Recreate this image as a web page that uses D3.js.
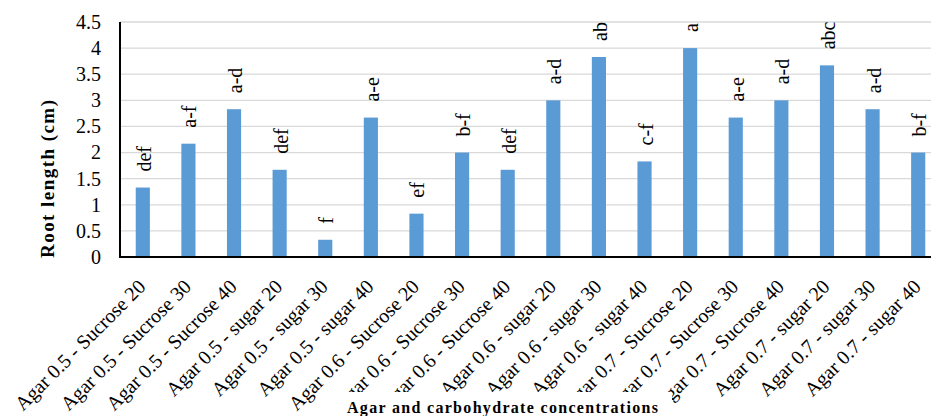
<!DOCTYPE html>
<html>
<head>
<meta charset="utf-8">
<script src="https://cdn.jsdelivr.net/npm/d3@7"></script>
<style>
  body { margin: 0; background: #fff; }
</style>
</head>
<body>
<div id="chart"></div>
<script>
// treatments on the x axis
let categories = [
    "Agar 0.5 - Sucrose 20", "Agar 0.5 - Sucrose 30", "Agar 0.5 - Sucrose 40",
    "Agar 0.5 - sugar 20", "Agar 0.5 - sugar 30", "Agar 0.5 - sugar 40",
    "Agar 0.6 - Sucrose 20", "Agar 0.6 - Sucrose 30", "Agar 0.6 - Sucrose 40",
    "Agar 0.6 - sugar 20", "Agar 0.6 - sugar 30", "Agar 0.6 - sugar 40",
    "Agar 0.7 - Sucrose 20", "Agar 0.7 - Sucrose 30", "Agar 0.7 - Sucrose 40",
    "Agar 0.7 - sugar 20", "Agar 0.7 - sugar 30", "Agar 0.7 - sugar 40"
];
let rootLength = [1.33, 2.17, 2.83, 1.67, 0.33, 2.67, 0.83, 2.0, 1.67,
                  3.0, 3.83, 1.83, 4.0, 2.67, 3.0, 3.67, 2.83, 2.0];
let letters = ["def", "a-f", "a-d", "def", "f", "a-e", "ef", "b-f", "def",
               "a-d", "ab", "c-f", "a", "a-e", "a-d", "abc", "a-d", "b-f"];
let yTicks = [0, 0.5, 1, 1.5, 2, 2.5, 3, 3.5, 4, 4.5];

let dataset = categories.map((c, i) => [c, rootLength[i], letters[i]]);

let FONT = "Liberation Serif";
let W = 931, H = 416;
let margin = {top: 22, right: -10, bottom: 159, left: 120},
    width = W - margin.left - margin.right,
    height = H - margin.top - margin.bottom;

let svg = d3.select("#chart")
    .append("svg")
    .attr("width", W)
    .attr("height", H)
    .style("display", "block");

let g = svg.append("g")
    .attr("transform", "translate(" + margin.left + "," + margin.top + ")");

let x = d3.scaleBand()
    .domain(categories)
    .range([0, width])
    .paddingInner(0.69)
    .paddingOuter(0.345);

let y = d3.scaleLinear()
    .domain([0, 4.5])
    .range([height, 0]);

// gridlines
g.append("g")
    .selectAll("line")
    .data(yTicks.slice(1))
    .enter()
    .append("line")
    .attr("x1", 0)
    .attr("x2", width)
    .attr("y1", d => y(d))
    .attr("y2", d => y(d))
    .style("stroke", "#d9d9d9")
    .style("stroke-width", 1.3);

// y axis labels
let yAxis = g.append("g")
    .call(d3.axisLeft(y).tickValues(yTicks).tickSize(0).tickPadding(19).tickFormat(d3.format("")));
yAxis.select(".domain").remove();
yAxis.selectAll("text")
    .style("font-size", "20px")
    .style("font-family", FONT)
    .attr("fill", "#000");

// bars
g.append("g")
    .selectAll("rect")
    .data(dataset)
    .enter()
    .append("rect")
    .attr("x", d => x(d[0]))
    .attr("width", x.bandwidth())
    .attr("y", d => y(d[1]))
    .attr("height", d => height - y(d[1]))
    .style("fill", "#5b9bd5");

// significance letters
g.append("g")
    .selectAll("text")
    .data(dataset)
    .enter()
    .append("text")
    .attr("transform", d => "translate(" + (x(d[0]) + x.bandwidth() / 2 + 1) + "," + (y(d[1]) - 16) + ") rotate(-90)")
    .attr("text-anchor", "start")
    .attr("dominant-baseline", "central")
    .style("font-family", FONT)
    .style("font-size", "20px")
    .text(d => d[2]);

// axis lines
g.append("line")
    .attr("x1", 0).attr("x2", 0)
    .attr("y1", 0).attr("y2", height)
    .style("stroke", "#000").style("stroke-width", 2);
g.append("line")
    .attr("x1", -1).attr("x2", width)
    .attr("y1", height).attr("y2", height)
    .style("stroke", "#000").style("stroke-width", 2);

// x tick labels
g.append("g")
    .selectAll("text")
    .data(categories)
    .enter()
    .append("text")
    .attr("transform", d => "translate(" + (x(d) + x.bandwidth() / 2 - 1) + "," + (height + 26) + ") rotate(-45)")
    .attr("text-anchor", "end")
    .attr("dominant-baseline", "central")
    .style("font-family", FONT)
    .style("font-size", "20px")
    .text(d => d);

// y title
svg.append("text")
    .attr("transform", "translate(47,179) rotate(-90)")
    .attr("text-anchor", "middle")
    .attr("dominant-baseline", "central")
    .attr("textLength", 158)
    .style("font-family", FONT)
    .style("font-size", "19px")
    .style("font-weight", "bold")
    .text("Root  length (cm)");

// x title with its white box over the tick labels
svg.append("rect")
    .attr("x", 330)
    .attr("y", 392)
    .attr("width", 342)
    .attr("height", 24)
    .style("fill", "#fff");
svg.append("text")
    .attr("x", 347)
    .attr("y", 413)
    .attr("textLength", 311)
    .style("font-family", FONT)
    .style("font-size", "16px")
    .style("font-weight", "bold")
    .text("Agar and carbohydrate concentrations");
</script>
</body>
</html>
